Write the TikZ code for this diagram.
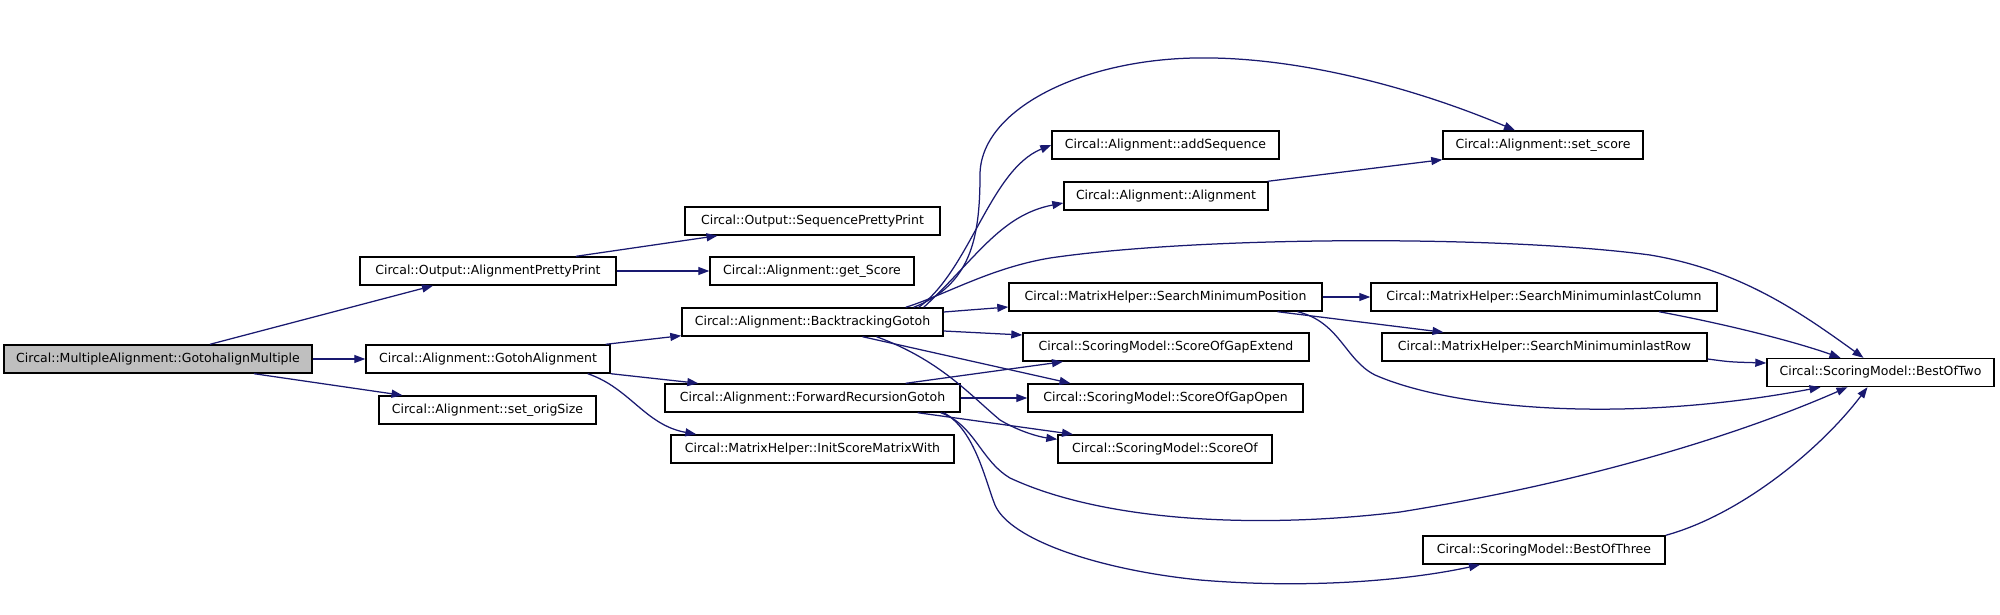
\documentclass[tikz,border=0pt]{standalone}
\usepackage{fontspec}
\setmainfont{DejaVu Sans}
\usepackage{xcolor}
\usepackage{tikz}
\usetikzlibrary{arrows.meta}

\definecolor{callblue}{HTML}{191970}

\begin{document}
\begin{tikzpicture}[x=1pt,y=-1pt,
    fn/.style={draw=black, line width=1.4pt, fill=white, minimum height=28pt,
        inner sep=0pt, font=\fontsize{12.5}{14}\selectfont},
    call/.style={draw=callblue, line width=1.25pt, -{Triangle[length=11pt,width=8pt]}}]

% Background and page size
\fill[white] (0,0) rectangle (2000,615);
\useasboundingbox (0,0) rectangle (2000,615);

% Caller
\node[fn, fill=black!25, minimum width=308pt] (gam) at (158,359) {Circal::MultipleAlignment::GotohalignMultiple};

% First level
\node[fn, minimum width=256pt] (app) at (488,271) {Circal::Output::AlignmentPrettyPrint};
\node[fn, minimum width=244pt] (ga) at (488,359) {Circal::Alignment::GotohAlignment};
\node[fn, minimum width=217pt] (sos) at (487.5,410) {Circal::Alignment::set\_origSize};

% Second level
\node[fn, minimum width=255pt] (spp) at (812.5,221) {Circal::Output::SequencePrettyPrint};
\node[fn, minimum width=204pt] (gs) at (812,271) {Circal::Alignment::get\_Score};
\node[fn, minimum width=261pt] (btg) at (812.5,322) {Circal::Alignment::BacktrackingGotoh};
\node[fn, minimum width=295pt] (frg) at (812.5,398) {Circal::Alignment::ForwardRecursionGotoh};
\node[fn, minimum width=283pt] (ismw) at (812.5,449) {Circal::MatrixHelper::InitScoreMatrixWith};

% Third level
\node[fn, minimum width=227pt] (as) at (1165.5,145) {Circal::Alignment::addSequence};
\node[fn, minimum width=204pt] (al) at (1166,196) {Circal::Alignment::Alignment};
\node[fn, minimum width=313pt] (smp) at (1165.5,297) {Circal::MatrixHelper::SearchMinimumPosition};
\node[fn, minimum width=286pt] (sge) at (1166,347) {Circal::ScoringModel::ScoreOfGapExtend};
\node[fn, minimum width=275pt] (sgo) at (1165.5,398) {Circal::ScoringModel::ScoreOfGapOpen};
\node[fn, minimum width=214pt] (so) at (1165,449) {Circal::ScoringModel::ScoreOf};

% Fourth level
\node[fn, minimum width=200pt] (ss) at (1543,145) {Circal::Alignment::set\_score};
\node[fn, minimum width=346pt] (smc) at (1544,297) {Circal::MatrixHelper::SearchMinimuminlastColumn};
\node[fn, minimum width=325pt] (smr) at (1544.5,347) {Circal::MatrixHelper::SearchMinimuminlastRow};
\node[fn, minimum width=242pt] (bo3) at (1544,550) {Circal::ScoringModel::BestOfThree};

% Last level
\node[fn, minimum width=227pt] (bo2) at (1880.5,372.5) {Circal::ScoringModel::BestOfTwo};

% Calls of GotohalignMultiple
\draw[call] ([xshift=52pt]gam.north) -- ([xshift=-55pt]app.south);
\draw[call] (gam.east) -- (ga.west);
\draw[call] ([xshift=96pt]gam.south) -- ([xshift=-85pt]sos.north);

% Calls of AlignmentPrettyPrint
\draw[call] ([xshift=88pt]app.north) -- ([xshift=-95pt]spp.south);
\draw[call] (app.east) -- (gs.west);

% Calls of GotohAlignment
\draw[call] ([xshift=-5pt]ga.north east) -- ([yshift=1pt]btg.south west);
\draw[call] (ga.south east) -- ([xshift=34pt]frg.north west);
\draw[call] ([xshift=-23pt]ga.south east) .. controls (630,388) and (645,425) .. ([xshift=26pt]ismw.north west);

% Calls of BacktrackingGotoh
\draw[call] ([xshift=-30pt]btg.north east) .. controls (970,285) and (980,240) .. (980,175)
    .. controls (980,110) and (1080,60) .. (1195,58)
    .. controls (1300,56) and (1420,90) .. ([xshift=-28pt]ss.north);
\draw[call] ([xshift=-25pt]btg.north east) .. controls (970,270) and (990,170) .. (as.west);
\draw[call] ([xshift=-20pt]btg.north east) .. controls (975,260) and (1000,215) .. ([yshift=-7pt]al.west);
\draw[call] ([xshift=-38pt]btg.north east) .. controls (945,295) and (990,268) .. (1050,258)
    .. controls (1200,236) and (1500,235) .. (1650,255)
    .. controls (1740,270) and (1800,312) .. ([xshift=-17pt]bo2.north);
\draw[call] ([yshift=10pt]btg.east) -- ([yshift=-10pt]smp.west);
\draw[call] ([yshift=-9pt]btg.east) -- ([yshift=12pt]sge.west);
\draw[call] ([xshift=50pt]btg.south) -- ([xshift=-95pt]sgo.north);
\draw[call] ([xshift=64pt]btg.south) .. controls (940,360) and (970,395) .. (1000,420)
    .. controls (1020,432) and (1040,437) .. ([yshift=-5pt]so.north west);

% Calls of ForwardRecursionGotoh
\draw[call] ([xshift=-55pt]frg.north east) -- ([xshift=-103pt]sge.south);
\draw[call] (frg.east) -- (sgo.west);
\draw[call] ([xshift=-43pt]frg.south east) -- ([xshift=-92pt]so.north);
\draw[call] ([xshift=-20pt]frg.south east) .. controls (975,425) and (980,460) .. (1010,478)
    .. controls (1100,520) and (1250,530) .. (1400,512)
    .. controls (1600,480) and (1750,430) .. ([xshift=-33pt]bo2.south);
\draw[call] ([xshift=-17pt]frg.south east) .. controls (975,430) and (985,480) .. (995,505)
    .. controls (1010,540) and (1100,570) .. (1200,580)
    .. controls (1320,590) and (1420,578) .. ([xshift=-64pt]bo3.south);

% Calls of SearchMinimumPosition
\draw[call] (smp.east) -- (smc.west);
\draw[call] ([xshift=112pt]smp.south) -- ([xshift=-101pt]smr.north);
\draw[call] ([xshift=132pt]smp.south) .. controls (1340,322) and (1345,360) .. (1375,375)
    .. controls (1450,408) and (1620,425) .. ([xshift=-60pt]bo2.south);

% Remaining calls
\draw[call] ([xshift=-1pt]al.north east) -- (ss.south west);
\draw[call] ([xshift=115pt]smc.south) .. controls (1720,323) and (1790,340) .. ([xshift=-40pt]bo2.north);
\draw[call] ([yshift=-12pt]smr.east) .. controls (1730,362) .. ([yshift=9.5pt]bo2.west);
\draw[call] (bo3.north east) .. controls (1740,515) and (1820,450) .. ([xshift=-13pt]bo2.south);
\end{tikzpicture}
\end{document}
